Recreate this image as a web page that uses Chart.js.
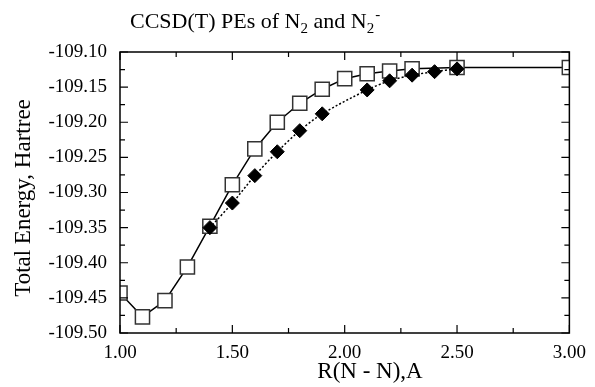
<!DOCTYPE html>
<html>
<head>
    <title>CCSD(T) PEs of N2 and N2-</title>
    <script src="https://cdn.jsdelivr.net/npm/chart.js"></script>
    <style>
        html, body {
            margin: 0;
            padding: 0;
            background: #ffffff;
        }
        #wrap {
            width: 595px;
            height: 387px;
        }
    </style>
</head>
<body>
    <div id="wrap">
        <canvas id="peChart" width="595" height="387"></canvas>
    </div>

    <script>
        // N2 (open squares, solid line)
        const n2R = [1.00, 1.10, 1.20, 1.30, 1.40, 1.50, 1.60, 1.70, 1.80, 1.90, 2.00, 2.10, 2.20, 2.30, 2.50, 3.00];
        const n2E = [-109.443, -109.477, -109.454, -109.406, -109.348, -109.289, -109.238, -109.200, -109.173, -109.153, -109.138, -109.131, -109.127, -109.124, -109.122, -109.122];

        // N2- (filled diamonds, dotted line)
        const n2mR = [1.40, 1.50, 1.60, 1.70, 1.80, 1.90, 2.10, 2.20, 2.30, 2.40, 2.50];
        const n2mE = [-109.350, -109.315, -109.276, -109.242, -109.212, -109.188, -109.154, -109.141, -109.133, -109.128, -109.124];

        const xTicks = [1.00, 1.50, 2.00, 2.50, 3.00];
        const yTicks = [-109.10, -109.15, -109.20, -109.25, -109.30, -109.35, -109.40, -109.45, -109.50];

        const serif = "'Liberation Serif', 'Times New Roman', serif";

        function toPoints(xs, ys) {
            return xs.map((x, i) => ({ x: x, y: ys[i] }));
        }

        // inward ticks on all four sides, frame, titles
        const decorPlugin = {
            id: "decor",
            afterDraw(chart) {
                const ctx = chart.ctx;
                const a = chart.chartArea;
                const xs = chart.scales.x;
                const ys = chart.scales.y;
                ctx.save();
                ctx.strokeStyle = "#000";
                ctx.lineWidth = 1.5;
                ctx.strokeRect(a.left, a.top, a.right - a.left, a.bottom - a.top);

                ctx.lineWidth = 1.2;
                ctx.beginPath();
                for (let i = 0; i <= 8; i++) {
                    const px = xs.getPixelForValue(1 + i * 0.25);
                    const len = i % 2 === 0 ? 8 : 5;
                    ctx.moveTo(px, a.bottom); ctx.lineTo(px, a.bottom - len);
                    ctx.moveTo(px, a.top); ctx.lineTo(px, a.top + len);
                }
                for (let i = 0; i <= 16; i++) {
                    const py = ys.getPixelForValue(-109.5 + i * 0.025);
                    const len = i % 2 === 0 ? 8 : 5;
                    ctx.moveTo(a.left, py); ctx.lineTo(a.left + len, py);
                    ctx.moveTo(a.right, py); ctx.lineTo(a.right - len, py);
                }
                ctx.stroke();

                // chart title with sub/superscripts
                ctx.fillStyle = "#000";
                ctx.textBaseline = "alphabetic";
                ctx.textAlign = "left";
                const big = "22px " + serif;
                const small = "15px " + serif;
                const base = 28;
                let tx = 130;
                ctx.font = big;
                ctx.fillText("CCSD(T) PEs of N", tx, base);
                tx += ctx.measureText("CCSD(T) PEs of N").width;
                ctx.font = small;
                ctx.fillText("2", tx, base + 5);
                tx += ctx.measureText("2").width;
                ctx.font = big;
                ctx.fillText(" and N", tx, base);
                tx += ctx.measureText(" and N").width;
                ctx.font = small;
                ctx.fillText("2", tx, base + 5);
                ctx.fillText("-", tx + ctx.measureText("2").width + 1, base - 9);

                // axis titles
                ctx.font = "23px " + serif;
                ctx.textAlign = "center";
                ctx.fillText("R(N - N),A", 370, 378);

                ctx.save();
                ctx.translate(30, 198);
                ctx.rotate(-Math.PI / 2);
                ctx.fillText("Total Energy, Hartree", 0, 0);
                ctx.restore();

                ctx.restore();
            }
        };

        new Chart(document.getElementById("peChart").getContext("2d"), {
            type: "scatter",
            data: {
                datasets: [
                    {
                        label: "N2-",
                        data: toPoints(n2mR, n2mE),
                        showLine: true,
                        borderColor: "#000",
                        borderWidth: 1.5,
                        borderDash: [2, 2],
                        tension: 0.3,
                        pointStyle: "rectRot",
                        pointRadius: 7,
                        pointBackgroundColor: "#000",
                        pointBorderColor: "#000",
                        pointBorderWidth: 1,
                        order: 1
                    },
                    {
                        label: "N2",
                        data: toPoints(n2R, n2E),
                        showLine: true,
                        borderColor: "#000",
                        borderWidth: 1.5,
                        tension: 0,
                        pointStyle: "rect",
                        pointRadius: 10,
                        pointBackgroundColor: "#fff",
                        pointBorderColor: "#333",
                        pointBorderWidth: 1.5,
                        order: 2
                    }
                ]
            },
            options: {
                responsive: false,
                animation: false,
                layout: {
                    autoPadding: false,
                    padding: { top: 52, right: 16, bottom: 0, left: 0 }
                },
                plugins: {
                    legend: { display: false },
                    title: { display: false },
                    tooltip: { enabled: false }
                },
                scales: {
                    x: {
                        type: "linear",
                        min: 1,
                        max: 3,
                        afterFit: s => { s.height = 54; },
                        afterBuildTicks: s => { s.ticks = xTicks.map(v => ({ value: v })); },
                        grid: { display: false, drawTicks: false },
                        border: { display: false },
                        ticks: {
                            padding: 9,
                            color: "#000",
                            font: { family: serif, size: 19 },
                            maxRotation: 0,
                            callback: v => v.toFixed(2)
                        }
                    },
                    y: {
                        type: "linear",
                        min: -109.5,
                        max: -109.1,
                        afterFit: s => { s.width = 120; },
                        afterBuildTicks: s => { s.ticks = yTicks.map(v => ({ value: v })); },
                        grid: { display: false, drawTicks: false },
                        border: { display: false },
                        ticks: {
                            padding: 13,
                            color: "#000",
                            font: { family: serif, size: 19 },
                            callback: v => v.toFixed(2)
                        }
                    }
                }
            },
            plugins: [decorPlugin]
        });
    </script>
</body>
</html>
